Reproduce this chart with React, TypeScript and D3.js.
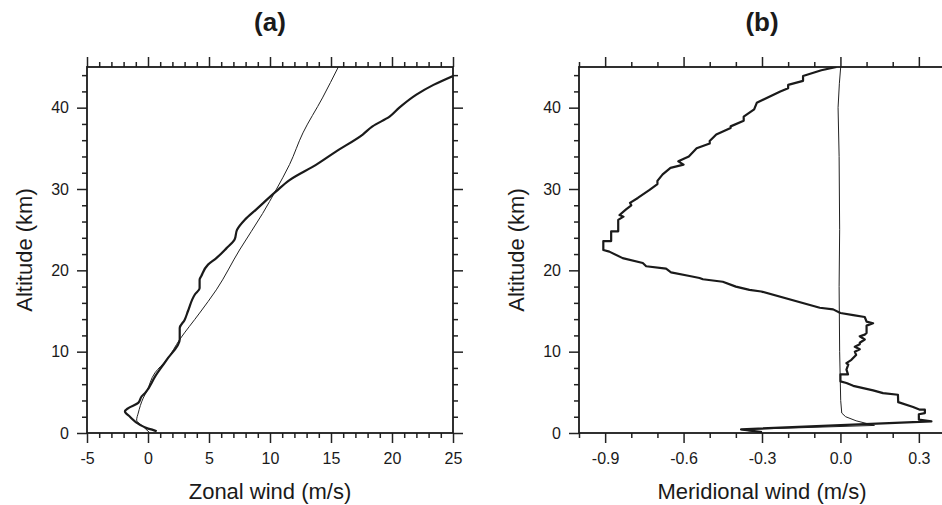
import React, { useRef, useEffect } from "react";
import * as d3 from "d3";

// altitude axis (shared)
const altMajor = [0, 10, 20, 30, 40];
const altMinor = [2, 4, 6, 8, 12, 14, 16, 18, 22, 24, 26, 28, 32, 34, 36, 38, 42, 44];

// panel (a) zonal wind
const zonalMajor = [-5, 0, 5, 10, 15, 20, 25];
const zonalMinor = [-4, -3, -2, -1, 1, 2, 3, 4, 6, 7, 8, 9, 11, 12, 13, 14, 16, 17, 18, 19, 21, 22, 23, 24];
const zonalThickU = [0.71, 0.45, -0.1, -0.66, -1.48, -1.89, -1.61, -0.8, -0.52, -0.25, 0.6, 1.53, 2.6, 2.6, 3.0, 3.28, 3.83, 4.23, 4.23, 4.37, 4.92, 5.6, 6.42, 7.1, 7.3, 7.92, 8.88, 10.5, 11.6, 13.8, 15.4, 17.6, 18.4, 19.8, 20.6, 22.0, 23.4, 25.0];
const zonalThickZ = [0.2, 0.35, 0.6, 1.0, 2.0, 2.65, 3.07, 3.7, 4.5, 4.9, 7.0, 9.0, 11.5, 12.9, 13.9, 15.0, 17.0, 17.8, 18.85, 19.3, 20.7, 21.5, 22.7, 23.8, 25.0, 26.2, 27.5, 29.7, 31.1, 33.0, 34.6, 36.7, 37.7, 38.9, 40.0, 41.6, 42.8, 43.9];
const zonalThinU = [0.16, -0.4, -0.93, -0.8, -0.39, -0.11, 0.57, 1.53, 2.6, 4.23, 5.6, 7.5, 9.4, 10.5, 11.6, 12.7, 14.3, 15.6];
const zonalThinZ = [0.0, 0.8, 1.6, 2.45, 4.3, 5.1, 7.4, 9.0, 11.5, 14.75, 17.6, 22.5, 27.0, 29.9, 33.0, 36.9, 41.2, 45.0];

// panel (b) meridional wind
const meridMajor = [-0.9, -0.6, -0.3, 0.0, 0.3];
const meridMinor = [-1.0, -0.8, -0.7, -0.5, -0.4, -0.2, -0.1, 0.1, 0.2, 0.4];
const meridThickV = [-0.3, -0.38, 0.348, 0.3, 0.3, 0.323, 0.323, 0.304, 0.278, 0.221, 0.22, 0.163, 0.125, 0.049, 0.023, 0.0, 0.0, 0.029, 0.023, 0.03, 0.023, 0.042, 0.06, 0.055, 0.074, 0.055, 0.074, 0.074, 0.093, 0.074, 0.093, 0.1, 0.1, 0.125, 0.1, 0.093, 0.049, 0.0, -0.028, -0.079, -0.303, -0.348, -0.4, -0.45, -0.526, -0.539, -0.577, -0.648, -0.667, -0.743, -0.756, -0.833, -0.884, -0.907, -0.907, -0.877, -0.877, -0.85, -0.85, -0.83, -0.845, -0.82, -0.8, -0.805, -0.775, -0.73, -0.7, -0.7, -0.68, -0.65, -0.6, -0.62, -0.58, -0.55, -0.5, -0.5, -0.475, -0.42, -0.42, -0.37, -0.37, -0.33, -0.32, -0.23, -0.2, -0.2, -0.143, -0.143, -0.073, -0.015];
const meridThickZ = [0.1, 0.45, 1.43, 1.64, 2.3, 2.45, 2.87, 2.87, 3.2, 3.8, 4.7, 4.9, 5.24, 5.8, 6.15, 6.35, 7.2, 7.2, 7.8, 8.4, 8.6, 9.0, 9.6, 10.0, 10.3, 10.6, 10.9, 11.1, 11.5, 11.9, 12.1, 12.3, 13.2, 13.5, 13.7, 14.26, 14.5, 14.75, 15.2, 15.4, 17.4, 17.6, 18.0, 18.6, 18.9, 19.06, 19.3, 19.75, 20.2, 20.5, 20.9, 21.5, 22.3, 22.5, 23.6, 23.6, 24.8, 24.8, 26.2, 26.6, 26.8, 27.5, 28.0, 28.3, 28.9, 29.9, 30.6, 31.0, 31.8, 32.6, 33.0, 33.4, 34.0, 35.0, 35.6, 35.9, 36.7, 37.5, 37.7, 38.4, 38.9, 39.8, 40.6, 42.0, 42.4, 42.8, 43.3, 43.9, 44.6, 45.0];
const meridThinV = [-0.3, -0.38, 0.13, 0.06, 0.02, 0.005, 0.001, -0.003, -0.005, -0.003, -0.005, -0.009, -0.004, 0.001];
const meridThinZ = [0.05, 0.42, 0.93, 1.5, 2.0, 2.45, 4.0, 10.0, 18.0, 25.0, 34.0, 40.0, 43.0, 45.0];

const FONT = "'Liberation Sans', Arial, Helvetica, sans-serif";
const BOX = 366;
const TOP = 67;

// plain hyphen minus like the original plot
const hyphen = (f: (v: number) => string) => (v: number) => f(v).replace("\u2212", "-");

type PanelProps = {
    left: number;
    title: string;
    xLabel: string;
    domain: [number, number];
    major: number[];
    minor: number[];
    fmt: (v: number) => string;
    thick: [number[], number[]];
    thin: [number[], number[]];
    smooth: boolean;
};

const Panel = (props: PanelProps) => {
    const ref = useRef<SVGGElement>(null);

    useEffect(() => {
        const g = d3.select(ref.current);
        g.selectAll("*").remove();

        const x = d3.scaleLinear().domain(props.domain).range([0, BOX]);
        const y = d3.scaleLinear().domain([0, 45]).range([BOX, 0]);

        const clipId = "clip-" + props.title.replace(/\W/g, "");
        g.append("clipPath").attr("id", clipId)
            .append("rect").attr("width", BOX).attr("height", BOX);

        // data lines
        const line = d3.line<[number, number]>()
            .x(d => x(d[0]))
            .y(d => y(d[1]))
            .curve(props.smooth ? d3.curveMonotoneY : d3.curveLinear);
        const plot = g.append("g").attr("clip-path", `url(#${clipId})`);
        const thinPts = props.thin[0].map((v, i) => [v, props.thin[1][i]] as [number, number]);
        const thickPts = props.thick[0].map((v, i) => [v, props.thick[1][i]] as [number, number]);
        plot.append("path")
            .attr("d", line(thinPts))
            .attr("fill", "none")
            .attr("stroke", "#222")
            .attr("stroke-width", 1)
            .attr("stroke-linejoin", "round");
        plot.append("path")
            .attr("d", line(thickPts))
            .attr("fill", "none")
            .attr("stroke", "#1a1a1a")
            .attr("stroke-width", 2.2)
            .attr("stroke-linejoin", "round");

        // axes: major + minor ticks on all four sides, pointing outward
        const addAxis = (axis: any, tr: string, labels: boolean) => {
            const a = g.append("g").attr("transform", tr).call(axis);
            a.select(".domain").remove();
            a.selectAll("line").attr("stroke", "#222").attr("stroke-width", 1.5);
            if (!labels) a.selectAll("text").remove();
            return a;
        };
        const axX = (fn: any, sz: number, vals: number[]) =>
            fn(x).tickValues(vals).tickSize(sz).tickSizeOuter(0).tickFormat(props.fmt);
        const axY = (fn: any, sz: number, vals: number[]) =>
            fn(y).tickValues(vals).tickSize(sz).tickSizeOuter(0).tickFormat(d3.format("d"));

        addAxis(axX(d3.axisBottom, 5, props.minor), `translate(0,${BOX})`, false);
        addAxis(axX(d3.axisTop, 5, props.minor), `translate(0,0)`, false);
        addAxis(axY(d3.axisLeft, 5, altMinor), `translate(0,0)`, false);
        addAxis(axY(d3.axisRight, 5, altMinor), `translate(${BOX},0)`, false);

        const bx = addAxis(axX(d3.axisBottom, 10, props.major).tickPadding(10), `translate(0,${BOX})`, true);
        bx.selectAll("text").attr("font-size", 16).attr("font-family", FONT).attr("fill", "#1a1a1a");
        addAxis(axX(d3.axisTop, 10, props.major), `translate(0,0)`, false);
        const ly = addAxis(axY(d3.axisLeft, 10, altMajor).tickPadding(8), `translate(0,0)`, true);
        ly.selectAll("text").attr("font-size", 16).attr("font-family", FONT).attr("fill", "#1a1a1a");
        addAxis(axY(d3.axisRight, 10, altMajor), `translate(${BOX},0)`, false);

        // frame
        g.append("rect")
            .attr("width", BOX)
            .attr("height", BOX)
            .attr("fill", "none")
            .attr("stroke", "#1a1a1a")
            .attr("stroke-width", 1.8);

        // titles
        g.append("text")
            .attr("x", BOX / 2)
            .attr("y", -TOP + 31)
            .attr("text-anchor", "middle")
            .attr("font-family", FONT)
            .attr("font-weight", "bold")
            .attr("font-size", 26)
            .attr("fill", "#1a1a1a")
            .text(props.title);
        g.append("text")
            .attr("x", BOX / 2)
            .attr("y", BOX + 66)
            .attr("text-anchor", "middle")
            .attr("font-family", FONT)
            .attr("font-size", 22)
            .attr("fill", "#1a1a1a")
            .text(props.xLabel);
        g.append("text")
            .attr("transform", `translate(-55,${BOX / 2}) rotate(-90)`)
            .attr("text-anchor", "middle")
            .attr("font-family", FONT)
            .attr("font-size", 22)
            .attr("fill", "#1a1a1a")
            .text("Altitude (km)");
    }, []);

    return <g ref={ref} transform={`translate(${props.left},${TOP})`} />;
};

export default function App() {
    return (
        <div style={{ position: "absolute", left: 0, top: 0 }}>
            <svg width={942} height={505} style={{ display: "block", background: "#fff" }}>
                <Panel
                    left={87}
                    title="(a)"
                    xLabel="Zonal wind (m/s)"
                    domain={[-5, 25]}
                    major={zonalMajor}
                    minor={zonalMinor}
                    fmt={hyphen(d3.format("d"))}
                    thick={[zonalThickU, zonalThickZ]}
                    thin={[zonalThinU, zonalThinZ]}
                    smooth={true}
                />
                <Panel
                    left={579}
                    title="(b)"
                    xLabel="Meridional wind (m/s)"
                    domain={[-1.0, 0.4]}
                    major={meridMajor}
                    minor={meridMinor}
                    fmt={hyphen(d3.format(".1f"))}
                    thick={[meridThickV, meridThickZ]}
                    thin={[meridThinV, meridThinZ]}
                    smooth={false}
                />
            </svg>
        </div>
    );
}
